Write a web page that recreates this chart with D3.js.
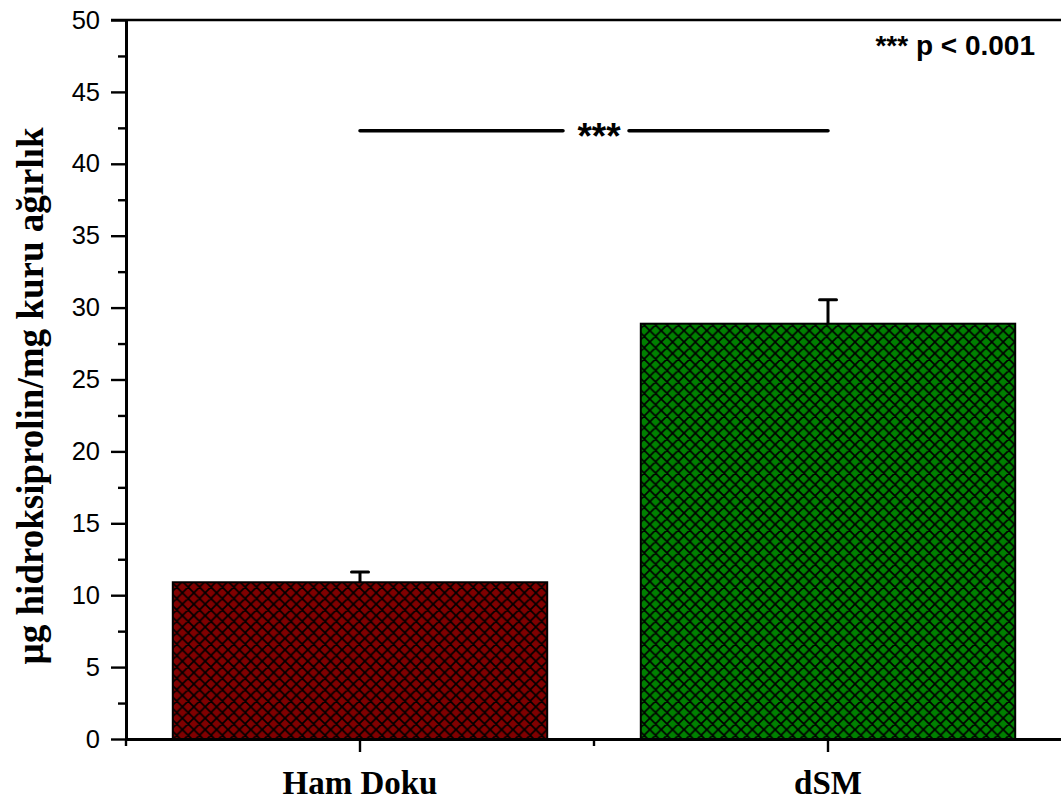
<!DOCTYPE html>
<html>
<head>
<meta charset="utf-8">
<script src="https://cdn.jsdelivr.net/npm/d3@7"></script>
<style>
  html, body { margin: 0; padding: 0; background: #fff; }
  svg { display: block; }
</style>
</head>
<body>
<svg id="chart" width="1061" height="805"></svg>
<script>
// Hydroxyproline content per dry weight
const categories = ["Ham Doku", "dSM"];
const means = [10.9, 28.88];
const errors = [0.71, 1.66];
const barColors = ["#800000", "#008000"];
const yTicks = [0, 5, 10, 15, 20, 25, 30, 35, 40, 45, 50];
const sigLevel = 42.3;
const sigLabel = "***";
const noteLabel = "*** p < 0.001";
const yTitle = "µg hidroksiprolin/mg kuru ağırlık";

const svg = d3.select("#chart");
const plotLeft = 126, plotRight = 1062, plotTop = 20, plotBottom = 739;

const x = d3.scaleBand().domain(categories).range([plotLeft, plotRight]).padding(0);
const y = d3.scaleLinear().domain([0, 50]).range([plotBottom, plotTop]);
const barW = x.bandwidth() * 0.8;

// crosshatch fill patterns
const defs = svg.append("defs");
categories.forEach((c, i) => {
  const p = defs.append("pattern")
    .attr("id", "hatch" + i)
    .attr("patternUnits", "userSpaceOnUse")
    .attr("width", 11.4).attr("height", 11.4);
  p.append("rect").attr("width", 11.4).attr("height", 11.4).attr("fill", barColors[i]);
  p.append("path")
    .attr("d", "M0,0 L11.4,11.4 M11.4,0 L0,11.4 M-1,10.4 L1,12.4 M10.4,-1 L12.4,1 M-1,1 L1,-1 M10.4,12.4 L12.4,10.4")
    .attr("stroke", "#000").attr("stroke-width", 1.7).attr("fill", "none");
});

// bars
svg.selectAll("rect.bar").data(categories).join("rect")
  .attr("class", "bar")
  .attr("x", d => x(d) + (x.bandwidth() - barW) / 2)
  .attr("y", (d, i) => y(means[i]))
  .attr("width", barW)
  .attr("height", (d, i) => y(0) - y(means[i]))
  .attr("fill", (d, i) => `url(#hatch${i})`)
  .attr("stroke", "#000").attr("stroke-width", 2);

// upper error bars
const eb = svg.selectAll("g.err").data(categories).join("g").attr("class", "err")
  .attr("stroke", "#000").attr("stroke-width", 3);
eb.append("line")
  .attr("x1", d => x(d) + x.bandwidth() / 2).attr("x2", d => x(d) + x.bandwidth() / 2)
  .attr("y1", (d, i) => y(means[i])).attr("y2", (d, i) => y(means[i] + errors[i]));
eb.append("line")
  .attr("x1", d => x(d) + x.bandwidth() / 2 - 8.5).attr("x2", d => x(d) + x.bandwidth() / 2 + 8.5)
  .attr("y1", (d, i) => y(means[i] + errors[i])).attr("y2", (d, i) => y(means[i] + errors[i]))
  .attr("stroke-linecap", "round");

// y axis with minor ticks
const yMinor = d3.range(2.5, 50, 5);
svg.append("g").attr("transform", `translate(${plotLeft},0)`)
  .call(d3.axisLeft(y).tickValues(yMinor).tickSize(8).tickFormat(""))
  .call(g => g.select(".domain").remove())
  .selectAll("line").attr("stroke-width", 2.4);
const yAxis = svg.append("g").attr("transform", `translate(${plotLeft},0)`)
  .call(d3.axisLeft(y).tickValues(yTicks).tickSize(15).tickSizeOuter(0).tickPadding(11));
yAxis.select(".domain").attr("stroke-width", 3);
yAxis.selectAll(".tick line").attr("stroke-width", 2.4);
yAxis.selectAll("text")
  .attr("font-family", "Liberation Sans, Arial, sans-serif")
  .attr("font-size", 25.5).attr("fill", "#000");

// x axis: major ticks at category centres, minor at band boundaries
const xAxis = svg.append("g").attr("transform", `translate(0,${plotBottom})`)
  .call(d3.axisBottom(x).tickSize(13).tickSizeOuter(0).tickPadding(19));
xAxis.select(".domain").attr("stroke-width", 3);
xAxis.selectAll(".tick line").attr("stroke-width", 2.4);
xAxis.selectAll("text")
  .attr("font-family", "Liberation Serif, Times New Roman, serif")
  .attr("font-weight", "bold").attr("font-size", 33).attr("fill", "#000");
svg.append("g").selectAll("line").data([plotLeft, x(categories[1])]).join("line")
  .attr("x1", d => d).attr("x2", d => d)
  .attr("y1", plotBottom).attr("y2", plotBottom + 7)
  .attr("stroke", "#000").attr("stroke-width", 2.4);

// top frame line
svg.append("line")
  .attr("x1", plotLeft - 15).attr("x2", 1061)
  .attr("y1", y(50)).attr("y2", y(50))
  .attr("stroke", "#000").attr("stroke-width", 2.4);

// significance bracket
const cx0 = x(categories[0]) + x.bandwidth() / 2;
const cx1 = x(categories[1]) + x.bandwidth() / 2;
const mid = (cx0 + cx1) / 2 + 5;
svg.append("g").attr("stroke", "#000").attr("stroke-width", 3.5).attr("stroke-linecap", "round")
  .selectAll("line").data([[cx0, mid - 36], [mid + 30, cx1]]).join("line")
  .attr("x1", d => d[0]).attr("x2", d => d[1])
  .attr("y1", y(sigLevel)).attr("y2", y(sigLevel));
svg.append("text")
  .attr("x", mid).attr("y", y(sigLevel) + 18)
  .attr("text-anchor", "middle")
  .attr("font-family", "Liberation Sans, Arial, sans-serif")
  .attr("font-weight", "bold").attr("font-size", 37)
  .text(sigLabel);

// p-value note
svg.append("text")
  .attr("x", 1035).attr("y", 55)
  .attr("text-anchor", "end")
  .attr("font-family", "Liberation Sans, Arial, sans-serif")
  .attr("font-weight", "bold").attr("font-size", 28)
  .text(noteLabel);

// y axis title
svg.append("text")
  .attr("transform", `translate(43,396) rotate(-90)`)
  .attr("text-anchor", "middle")
  .attr("font-family", "Liberation Serif, Times New Roman, serif")
  .attr("font-weight", "bold").attr("font-size", 37)
  .text(yTitle);
</script>
</body>
</html>
